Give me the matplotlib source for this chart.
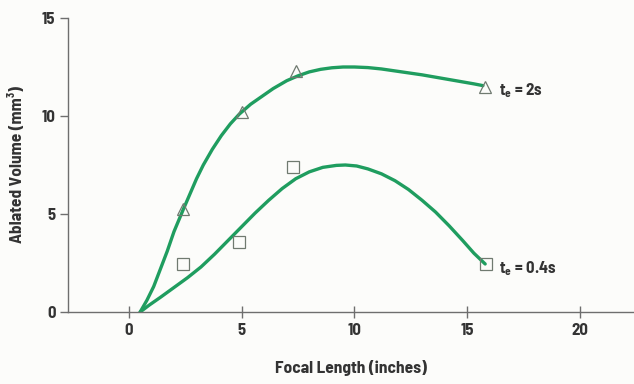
import matplotlib.pyplot as plt

# measured points
tri_x = [2.4, 5.0, 7.4, 15.8]
tri_y = [5.25, 10.2, 12.3, 11.5]
sq_x = [2.4, 4.9, 7.3, 15.85]
sq_y = [2.45, 3.55, 7.4, 2.45]

# fitted curves
upper_x = [0.5, 0.8, 1.1, 1.4, 1.7, 2.0, 2.4, 2.7, 3.0, 3.3, 3.7, 4.1, 4.5, 4.9,
           5.4, 5.9, 6.4, 7.0, 7.5, 8.0, 8.5, 9.0, 9.5, 10.0, 10.6, 11.2, 11.8,
           12.4, 13.0, 13.6, 14.2, 14.8, 15.3, 15.7]
upper_y = [0.0, 0.6, 1.3, 2.2, 3.1, 4.1, 5.2, 6.0, 6.8, 7.5, 8.3, 9.0, 9.6, 10.1,
           10.6, 11.0, 11.4, 11.8, 12.05, 12.25, 12.38, 12.46, 12.5, 12.5, 12.47, 12.4, 12.3,
           12.2, 12.1, 11.98, 11.86, 11.74, 11.64, 11.55]
lower_x = [0.5, 0.9, 1.4, 2.0, 2.6, 3.2, 3.8, 4.4, 5.0, 5.6, 6.2, 6.8, 7.4, 8.0,
           8.6, 9.2, 9.6, 10.1, 10.6, 11.2, 11.8, 12.4, 13.0, 13.6, 14.2, 14.8, 15.3, 15.8]
lower_y = [0.0, 0.35, 0.75, 1.25, 1.75, 2.3, 2.95, 3.65, 4.35, 5.05, 5.7, 6.3, 6.8, 7.15,
           7.38, 7.48, 7.5, 7.45, 7.3, 7.05, 6.7, 6.25, 5.7, 5.1, 4.4, 3.65, 3.0, 2.45]

green = "#1f9d5f"
txt = "#333333"
axc = "#6e6e6e"
plt.rcParams["font.family"] = ["Barlow Semi Condensed", "DejaVu Sans"]
plt.rcParams["font.weight"] = "bold"
plt.rcParams["axes.labelweight"] = "bold"

fig = plt.figure(figsize=(6.34, 3.84), dpi=100)
fig.patch.set_facecolor("#fcfcfa")
ax = fig.add_axes([68 / 634, 72 / 384, 566 / 634, 294 / 384])
ax.set_facecolor("none")

for xs, ys in [(upper_x, upper_y), (lower_x, lower_y)]:
    ax.plot(xs, ys, color=green, lw=2.4, solid_capstyle="round",
            solid_joinstyle="round", zorder=2)
ax.plot(tri_x, tri_y, ls="none", marker="^", ms=8, mfc="none", mec="#707a70", mew=0.9, zorder=3)
ax.plot(sq_x, sq_y, ls="none", marker="s", ms=8, mfc="none", mec="#707a70", mew=0.9, zorder=3)

ax.text(16.4, 11.3, r"$\mathregular{t_e = 2s}$", color=txt, fontsize=12, va="center", ha="left")
ax.text(16.4, 2.2, r"$\mathregular{t_e = 0.4s}$", color=txt, fontsize=12, va="center", ha="left")

ax.set_xlim(-2.7, 22.4)
ax.set_ylim(0, 15)
ax.set_xticks([0, 5, 10, 15, 20])
ax.set_yticks([0, 5, 10, 15])

for s in ["top", "right"]:
    ax.spines[s].set_visible(False)
for s in ["left", "bottom"]:
    ax.spines[s].set_color(axc)
    ax.spines[s].set_linewidth(1.0)

ax.tick_params(axis="x", direction="inout", length=8, width=1, color=axc, pad=4,
               labelsize=12, labelcolor=txt)
ax.tick_params(axis="y", direction="out", length=6, width=1, color=axc, pad=3,
               labelsize=12, labelcolor=txt)

ax.set_xlabel("Focal Length (inches)", fontsize=12.5, color=txt, labelpad=16)
ax.set_ylabel("Ablated Volume (mm³)", fontsize=12.5, color=txt, labelpad=12)

fig.savefig("out.png", dpi=100, facecolor=fig.get_facecolor())
